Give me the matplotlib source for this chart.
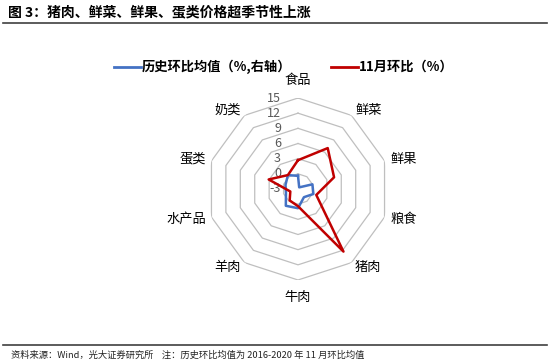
import numpy as np
import matplotlib
matplotlib.use('Agg')
import matplotlib.pyplot as plt
from matplotlib.lines import Line2D
from matplotlib.transforms import offset_copy

plt.rcParams['font.family'] = ['Noto Sans CJK SC', 'DejaVu Sans']

categories = ['食品', '鲜菜', '鲜果', '粮食', '猪肉', '牛肉', '羊肉', '水产品', '蛋类', '奶类']
hist_avg = [-0.4, -2.6, 0.0, 0.2, -1.0, 0.8, 1.1, -0.5, -0.4, 0.4]
nov_mom = [2.7, 7.0, 4.5, 0.8, 12.3, 0.4, -0.2, -1.4, 3.1, 0.4]
r_ticks = [-3, 0, 3, 6, 9, 12, 15]
series_names = ['历史环比均值（%,右轴）', '11月环比（%）']
title = '图 3：猪肉、鲜菜、鲜果、蛋类价格超季节性上涨'
source = '资料来源：Wind，光大证券研究所    注：历史环比均值为 2016-2020 年 11 月环比均值'

BLUE = '#4472C4'
RED = '#C00000'
GRID = '#BFBFBF'

W, H = 550, 364
fig = plt.figure(figsize=(W / 100, H / 100), dpi=100)

cx, cy, rad = 298, 189, 91
ax = fig.add_axes([(cx - rad) / W, (H - cy - rad) / H, 2 * rad / W, 2 * rad / H],
                  projection='polar')
ax.set_theta_zero_location('N')
ax.set_theta_direction(-1)
ax.set_ylim(r_ticks[0], r_ticks[-1])
ax.grid(False)
ax.spines['polar'].set_visible(False)
ax.set_xticks([])
ax.set_yticks([])
ax.patch.set_alpha(0)

n = len(categories)
theta = np.arange(n) * 2 * np.pi / n
tc = np.append(theta, theta[0])

for r in r_ticks[1:]:
    ax.plot(tc, [r] * (n + 1), color=GRID, lw=0.9, zorder=1)

ax.plot(tc, hist_avg + hist_avg[:1], color=BLUE, lw=1.8, zorder=3)
ax.plot(tc, nov_mom + nov_mom[:1], color=RED, lw=1.8, zorder=4)

# radial tick labels
tr = offset_copy(ax.transData, fig=fig, x=-17, y=0, units='dots')
for v in r_ticks:
    ax.text(0, v, str(v), transform=tr, ha='right', va='center',
            fontsize=9, color='#595959')

# category labels
span = r_ticks[-1] - r_ticks[0]
def px2r(p):
    return r_ticks[0] + p * span / rad

for t, lab in zip(theta, categories):
    s, c = np.sin(t), np.cos(t)
    if abs(s) < 0.1:
        ax.text(t, px2r(102), lab, ha='center', va='bottom' if c > 0 else 'top',
                fontsize=9.5, color='#000000')
    else:
        ax.text(t, px2r(97), lab, ha='left' if s > 0 else 'right', va='center',
                fontsize=9.5, color='#000000')

handles = [Line2D([], [], color=BLUE, lw=2), Line2D([], [], color=RED, lw=2)]
fig.legend(handles=handles, labels=series_names, ncol=2, loc='center',
           bbox_to_anchor=(284 / W, 1 - 67 / H), frameon=False,
           prop={'weight': 'bold', 'size': 9.5}, handlelength=2.0,
           handletextpad=0.1, columnspacing=3.0)

fig.text(8 / W, 1 - 12 / H, title, fontsize=10, fontweight='bold', ha='left', va='center')
fig.add_artist(Line2D([0.005, 0.995], [1 - 23 / H] * 2, color='#404040', lw=1.2))
fig.add_artist(Line2D([0.005, 0.995], [1 - 345 / H] * 2, color='#404040', lw=1.2))
fig.text(11 / W, 1 - 355 / H, source, fontsize=6.7, ha='left', va='center', color='#222222')

fig.savefig('out.png', dpi=100)
